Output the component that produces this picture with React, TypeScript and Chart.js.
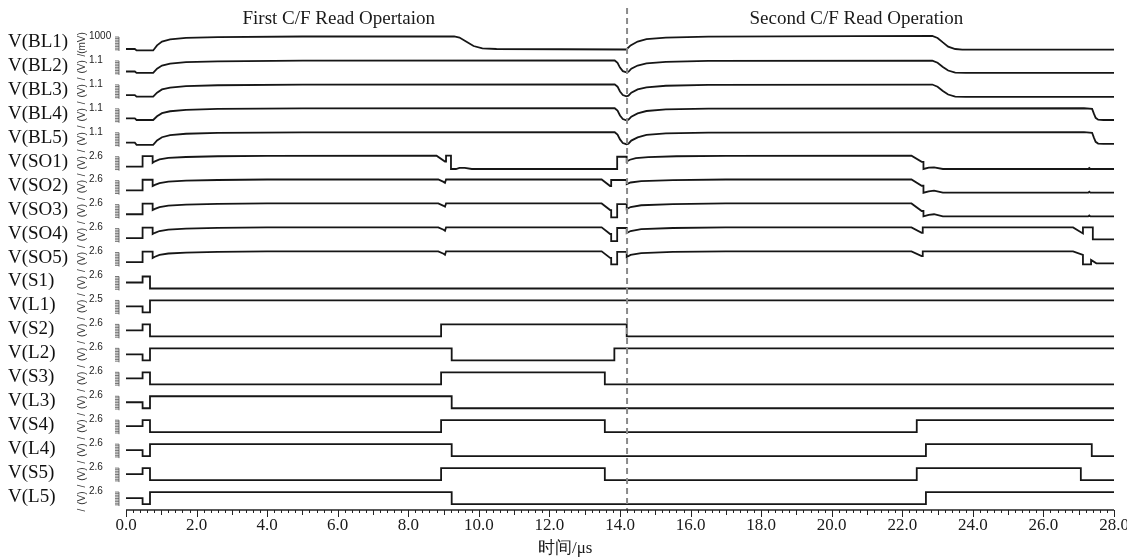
import React, { useEffect, useRef } from "react";
import { Chart, registerables } from "chart.js";

Chart.register(...registerables);

// ---- DATA (time in µs, level as fraction of each trace's full scale) ----
const LANE_LABELS = ["V(BL1)", "V(BL2)", "V(BL3)", "V(BL4)", "V(BL5)", "V(SO1)", "V(SO2)", "V(SO3)", "V(SO4)", "V(SO5)", "V(S1)", "V(L1)", "V(S2)", "V(L2)", "V(S3)", "V(L3)", "V(S4)", "V(L4)", "V(S5)", "V(L5)"];
const UNITS = ["(mV)", "(V)", "(V)", "(V)", "(V)", "(V)", "(V)", "(V)", "(V)", "(V)", "(V)", "(V)", "(V)", "(V)", "(V)", "(V)", "(V)", "(V)", "(V)", "(V)"];
const FULL_SCALE = ["1000", "1.1", "1.1", "1.1", "1.1", "2.6", "2.6", "2.6", "2.6", "2.6", "2.6", "2.5", "2.6", "2.6", "2.6", "2.6", "2.6", "2.6", "2.6", "2.6"];
const X_TICKS = [0, 2, 4, 6, 8, 10, 12, 14, 16, 18, 20, 22, 24, 26, 28];
const TITLES = ["First C/F Read Opertaion", "Second C/F Read Operation"];
const TITLE_TIMES = [6.03, 20.7];
const MARKER_T = 14.2;
const X_TITLE = "时间/μs";

const BL1 = [[0, 0], [0.25, 0], [0.3, -0.12], [0.77, -0.12], [0.88, 0.3], [1.02, 0.62], [1.25, 0.8], [1.7, 0.92], [2.6, 0.99], [5, 1.04], [9.3, 1.05], [9.45, 0.95], [9.65, 0.6], [9.85, 0.25], [10.1, 0.06], [10.5, 0], [14.18, -0.04], [14.3, 0.3], [14.5, 0.62], [14.75, 0.82], [15.3, 0.95], [16.5, 1.03], [22.85, 1.09], [23.0, 0.92], [23.15, 0.55], [23.3, 0.2], [23.5, 0.0], [23.7, -0.05], [28, -0.05]];
const BL2 = [[0, 0.12], [0.25, 0.12], [0.3, 0.0], [0.77, 0.0], [0.88, 0.35], [1.02, 0.62], [1.25, 0.78], [1.7, 0.9], [2.6, 0.97], [5, 1.03], [13.85, 1.04], [13.93, 0.85], [14.0, 0.45], [14.08, 0.15], [14.18, 0.05], [14.24, 0.1], [14.32, 0.35], [14.5, 0.62], [14.75, 0.8], [15.3, 0.93], [16.5, 1.0], [22.85, 1.03], [23.0, 0.85], [23.15, 0.5], [23.3, 0.2], [23.5, 0.03], [23.8, 0], [28, 0]];
const BL3 = [[0, 0.15], [0.25, 0.15], [0.3, 0.02], [0.77, 0.02], [0.88, 0.35], [1.02, 0.62], [1.25, 0.78], [1.7, 0.9], [2.6, 0.97], [5, 1.03], [13.85, 1.04], [13.93, 0.85], [14.0, 0.45], [14.08, 0.15], [14.18, 0.05], [14.24, 0.1], [14.32, 0.35], [14.5, 0.62], [14.75, 0.8], [15.3, 0.93], [16.5, 1.0], [22.85, 1.03], [23.0, 0.85], [23.15, 0.5], [23.3, 0.2], [23.5, 0.03], [23.8, 0], [28, 0]];
const BL4 = [[0, 0.2], [0.25, 0.2], [0.3, 0.07], [0.77, 0.07], [0.88, 0.38], [1.02, 0.64], [1.25, 0.8], [1.7, 0.92], [2.6, 0.99], [5, 1.04], [13.85, 1.05], [13.93, 0.85], [14.0, 0.45], [14.08, 0.15], [14.18, 0.05], [14.24, 0.1], [14.32, 0.35], [14.5, 0.62], [14.75, 0.82], [15.3, 0.95], [16.5, 1.02], [27.15, 1.05], [27.38, 1.0], [27.43, 0.6], [27.48, 0.25], [27.55, 0.1], [27.7, 0.07], [28, 0.07]];
const BL5 = [[0, 0.18], [0.25, 0.18], [0.3, 0.0], [0.77, 0.0], [0.88, 0.36], [1.02, 0.63], [1.25, 0.8], [1.7, 0.92], [2.6, 0.99], [5, 1.04], [13.85, 1.05], [13.93, 0.85], [14.0, 0.45], [14.08, 0.15], [14.18, 0.05], [14.24, 0.1], [14.32, 0.35], [14.5, 0.62], [14.75, 0.82], [15.3, 0.95], [16.5, 1.02], [27.15, 1.05], [27.38, 1.0], [27.43, 0.6], [27.48, 0.25], [27.55, 0.1], [27.7, 0.07], [28, 0.07]];

const SO1 = [[0, 0.17], [0.47, 0.17], [0.47, 1.05], [0.755, 1.05], [0.755, 0.5], [0.82, 0.62], [0.95, 0.78], [1.2, 0.9], [1.7, 0.98], [2.6, 1.04], [4, 1.08], [8.8, 1.09], [9.04, 0.6], [9.07, 0.6], [9.07, 1.09], [9.21, 1.09], [9.21, -0.02], [9.35, -0.02], [9.45, 0.08], [9.6, 0.08], [9.8, -0.02], [13.92, -0.02], [13.92, 1.0], [14.19, 1.0], [14.19, 0.6], [14.28, 0.75], [14.45, 0.88], [14.8, 0.97], [15.6, 1.04], [17, 1.08], [22.26, 1.09], [22.55, 0.58], [22.6, 0.58], [22.6, -0.02], [22.75, 0.1], [22.9, 0.12], [23.15, -0.02], [27.27, -0.02], [27.3, 0.06], [27.33, -0.02], [28, -0.02]];
const SO2 = [[0, 0.2], [0.47, 0.2], [0.47, 1.08], [0.755, 1.08], [0.755, 0.55], [0.82, 0.65], [0.95, 0.8], [1.2, 0.92], [1.7, 1.0], [2.6, 1.06], [4, 1.1], [8.85, 1.1], [9.0, 0.9], [9.04, 0.82], [9.07, 1.1], [13.48, 1.1], [13.72, 0.56], [13.75, 0.56], [13.75, 1.06], [14.19, 1.06], [14.19, 0.72], [14.3, 0.85], [14.6, 0.97], [15.5, 1.05], [17, 1.1], [22.26, 1.1], [22.55, 0.58], [22.6, 0.58], [22.6, 0.0], [22.75, 0.12], [22.9, 0.18], [23.15, 0.0], [27.27, 0], [27.3, 0.08], [27.33, 0], [28, 0]];
const SO3 = [[0, 0.2], [0.47, 0.2], [0.47, 1.08], [0.755, 1.08], [0.755, 0.55], [0.82, 0.65], [0.95, 0.8], [1.2, 0.92], [1.7, 1.0], [2.6, 1.06], [4, 1.1], [8.85, 1.1], [9.0, 0.9], [9.04, 0.83], [9.07, 1.1], [13.48, 1.1], [13.72, 0.55], [13.75, 0.55], [13.75, -0.06], [13.92, -0.06], [13.92, 1.05], [14.19, 1.05], [14.19, 0.63], [14.3, 0.8], [14.6, 0.95], [15.5, 1.05], [17, 1.1], [22.26, 1.1], [22.55, 0.47], [22.6, 0.47], [22.6, 0.02], [22.75, 0.15], [22.9, 0.2], [23.15, 0.02], [27.27, 0.02], [27.3, 0.1], [27.33, 0.02], [28, 0.02]];
const SO4 = [[0, 0.2], [0.47, 0.2], [0.47, 1.08], [0.755, 1.08], [0.755, 0.55], [0.82, 0.65], [0.95, 0.8], [1.2, 0.92], [1.7, 1.0], [2.6, 1.06], [4, 1.1], [8.85, 1.1], [9.0, 0.9], [9.04, 0.82], [9.07, 1.1], [13.48, 1.1], [13.72, 0.55], [13.75, 0.55], [13.75, -0.04], [13.92, -0.04], [13.92, 1.05], [14.19, 1.05], [14.19, 0.63], [14.3, 0.8], [14.6, 0.95], [15.5, 1.05], [17, 1.1], [22.26, 1.1], [22.55, 0.65], [22.58, 0.65], [22.58, 1.1], [26.84, 1.1], [27.12, 0.6], [27.12, 1.1], [27.4, 1.1], [27.4, 0.1], [28, 0.1]];
const SO5 = [[0, 0.2], [0.47, 0.2], [0.47, 1.08], [0.755, 1.08], [0.755, 0.55], [0.82, 0.65], [0.95, 0.8], [1.2, 0.92], [1.7, 1.0], [2.6, 1.06], [4, 1.1], [8.85, 1.1], [9.0, 0.9], [9.04, 0.82], [9.07, 1.1], [13.48, 1.1], [13.72, 0.55], [13.75, 0.55], [13.75, 0.02], [13.92, 0.02], [13.92, 1.05], [14.19, 1.05], [14.19, 0.63], [14.3, 0.8], [14.6, 0.95], [15.5, 1.05], [17, 1.1], [22.26, 1.1], [22.55, 0.7], [22.58, 0.7], [22.58, 1.1], [26.84, 1.1], [27.12, 0.8], [27.12, 0.02], [27.35, 0.02], [27.35, 0.38], [27.5, 0.1], [28, 0.1]];

const S1 = [[0, 0.5], [0.47, 0.5], [0.47, 1], [0.68, 1], [0.68, 0], [28, 0]];
const L1 = [[0, 0.5], [0.47, 0.5], [0.47, 0], [0.68, 0], [0.68, 1], [28, 1]];
const S2 = [[0, 0.5], [0.47, 0.5], [0.47, 1], [0.68, 1], [0.68, 0], [8.93, 0], [8.93, 1], [14.19, 1], [14.19, 0], [28, 0]];
const L2 = [[0, 0.5], [0.47, 0.5], [0.47, 0], [0.68, 0], [0.68, 1], [9.23, 1], [9.23, 0], [13.84, 0], [13.84, 1], [28, 1]];
const S3 = [[0, 0.5], [0.47, 0.5], [0.47, 1], [0.68, 1], [0.68, 0], [8.93, 0], [8.93, 1], [13.57, 1], [13.57, 0], [28, 0]];
const L3 = [[0, 0.5], [0.47, 0.5], [0.47, 0], [0.68, 0], [0.68, 1], [9.23, 1], [9.23, 0], [28, 0]];
const S4 = [[0, 0.5], [0.47, 0.5], [0.47, 1], [0.68, 1], [0.68, 0], [8.93, 0], [8.93, 1], [13.57, 1], [13.57, 0], [22.41, 0], [22.41, 1], [28, 1]];
const L4 = [[0, 0.5], [0.47, 0.5], [0.47, 0], [0.68, 0], [0.68, 1], [9.23, 1], [9.23, 0], [22.67, 0], [22.67, 1], [27.37, 1], [27.37, 0], [28, 0]];
const S5 = [[0, 0.5], [0.47, 0.5], [0.47, 1], [0.68, 1], [0.68, 0], [8.93, 0], [8.93, 1], [13.57, 1], [13.57, 0], [22.41, 0], [22.41, 1], [27.06, 1], [27.06, 0], [28, 0]];
const L5 = [[0, 0.5], [0.47, 0.5], [0.47, 0], [0.68, 0], [0.68, 1], [9.23, 1], [9.23, 0], [22.67, 0], [22.67, 1], [28, 1]];

const TRACES = [BL1, BL2, BL3, BL4, BL5, SO1, SO2, SO3, SO4, SO5, S1, L1, S2, L2, S3, L3, S4, L4, S5, L5];

// ---- layout ----
const W = 1127;
const H = 559;
const LANE_TOP = 43;
const LANE_STEP = 23.95;
const AMP = 12;
const laneCenter = (i: number) => LANE_TOP + i * LANE_STEP;

const SERIF = '"Liberation Serif", "Times New Roman", serif';
const SANS = '"Liberation Sans", Arial, sans-serif';

const decorPlugin = {
  id: "decor",
  afterDatasetsDraw(chart: any) {
    const ctx = chart.ctx as CanvasRenderingContext2D;
    const xs = chart.scales.x;
    const ys = chart.scales.y;
    const area = chart.chartArea;
    ctx.save();

    // dashed marker
    const mx = xs.getPixelForValue(MARKER_T);
    ctx.strokeStyle = "#8a8a8a";
    ctx.lineWidth = 2;
    ctx.setLineDash([6, 4]);
    ctx.beginPath();
    ctx.moveTo(mx, 8);
    ctx.lineTo(mx, area.bottom);
    ctx.stroke();
    ctx.setLineDash([]);

    // x axis line
    ctx.strokeStyle = "#222";
    ctx.lineWidth = 1.3;
    ctx.beginPath();
    ctx.moveTo(xs.getPixelForValue(0), area.bottom);
    ctx.lineTo(xs.getPixelForValue(28), area.bottom);
    ctx.stroke();
    // ticks
    ctx.lineWidth = 1;
    for (let k = 0; k <= 140; k++) {
      const t = k * 0.2;
      const px = Math.round(xs.getPixelForValue(t)) + 0.5;
      const len = k % 10 === 0 ? 7 : k % 5 === 0 ? 5 : 3;
      ctx.beginPath();
      ctx.moveTo(px, area.bottom);
      ctx.lineTo(px, area.bottom + len);
      ctx.stroke();
    }
    // tick labels
    ctx.fillStyle = "#1a1a1a";
    ctx.font = `17px ${SERIF}`;
    ctx.textAlign = "center";
    ctx.textBaseline = "middle";
    X_TICKS.forEach((t) => {
      ctx.fillText(t.toFixed(1), xs.getPixelForValue(t), area.bottom + 16);
    });
    ctx.textAlign = "left";
    ctx.font = `17px ${SERIF}`;
    ctx.fillText(X_TITLE, 538, 549);

    // titles
    ctx.textAlign = "center";
    ctx.font = `19px ${SERIF}`;
    TITLES.forEach((s, i) => ctx.fillText(s, xs.getPixelForValue(TITLE_TIMES[i]), 19));

    // lane labels & decorations
    LANE_LABELS.forEach((lab, i) => {
      const c = ys.getPixelForValue(laneCenter(i));
      ctx.fillStyle = "#111";
      ctx.textAlign = "left";
      ctx.textBaseline = "middle";
      ctx.font = `19px ${SERIF}`;
      ctx.fillText(lab, 8, c - 1);

      // rotated unit
      ctx.save();
      ctx.translate(82, c);
      ctx.rotate(-Math.PI / 2);
      ctx.font = `10px ${SANS}`;
      ctx.fillStyle = "#333";
      ctx.textAlign = "center";
      ctx.fillText(UNITS[i], 0, 0);
      ctx.fillText("/", -12, 0);
      ctx.restore();

      // full-scale label
      ctx.font = `10px ${SANS}`;
      ctx.fillStyle = "#222";
      ctx.textAlign = "left";
      ctx.fillText(FULL_SCALE[i], 89, c - 7);

      // mini tick stack
      ctx.strokeStyle = "#555";
      ctx.lineWidth = 0.8;
      for (let yy = c - 6; yy <= c + 8; yy += 1.6) {
        ctx.beginPath();
        ctx.moveTo(115, yy);
        ctx.lineTo(119, yy);
        ctx.stroke();
      }
      ctx.beginPath();
      ctx.moveTo(119, c - 6);
      ctx.lineTo(119, c + 8);
      ctx.stroke();
    });
    ctx.restore();
  },
};

export default function App() {
  const ref = useRef<HTMLCanvasElement | null>(null);
  useEffect(() => {
    document.body.style.margin = "0";
    document.body.style.overflow = "hidden";
    const canvas = ref.current;
    if (!canvas) return;
    const datasets = TRACES.map((tr, i) => ({
      data: tr.map(([t, l]) => ({ x: t, y: laneCenter(i) + (0.5 - l) * AMP })),
      borderColor: "#161616",
      borderWidth: 1.8,
      pointRadius: 0,
      tension: 0,
      fill: false,
    }));
    const chart = new Chart(canvas, {
      type: "line",
      data: { datasets },
      options: {
        animation: false,
        responsive: false,
        devicePixelRatio: 1,
        layout: { padding: { left: 126, right: 13, top: 30, bottom: 49 } },
        scales: {
          x: { type: "linear", min: 0, max: 28, display: false },
          y: { type: "linear", min: 30, max: 510, reverse: true, display: false },
        },
        plugins: { legend: { display: false }, tooltip: { enabled: false } },
      },
      plugins: [decorPlugin],
    });
    return () => chart.destroy();
  }, []);
  return (
    <div style={{ width: W, height: H, background: "#fff" }}>
      <canvas ref={ref} width={W} height={H} />
    </div>
  );
}
